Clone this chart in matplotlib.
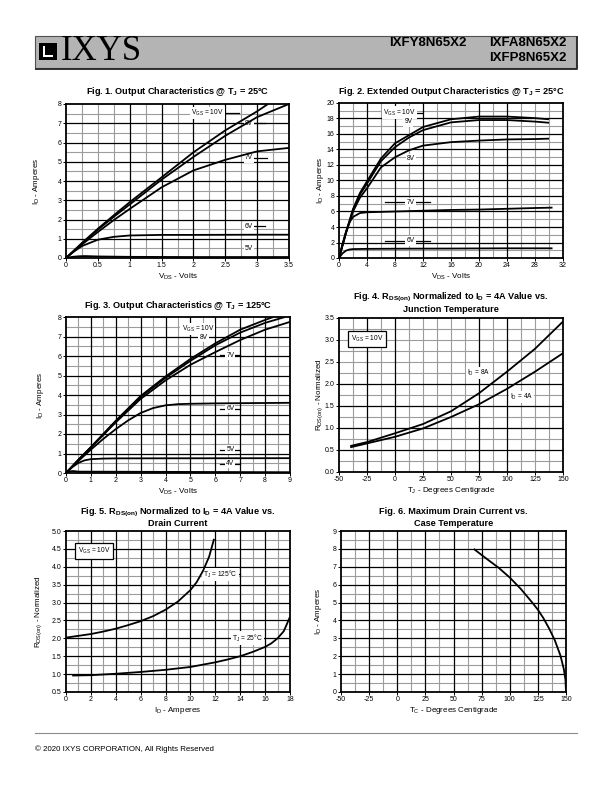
import numpy as np
import matplotlib
matplotlib.use("Agg")
import matplotlib.pyplot as plt
from matplotlib.patches import Rectangle

plt.rcParams['font.family'] = ['Liberation Sans', 'DejaVu Sans']
plt.rcParams['mathtext.default'] = 'regular'

# ---- data ----
# Fig 1: output characteristics @ 25C
f1_vds = [0, 0.25, 0.5, 0.75, 1.0, 1.5, 2.0, 2.5, 3.0, 3.5]
f1_vds_10 = [0, 0.25, 0.5, 0.75, 1.0, 1.5, 2.0, 2.5, 3.0, 3.17]
f1_id_10 = [0, 0.78, 1.52, 2.22, 2.9, 4.19, 5.49, 6.63, 7.62, 8.0]
f1_id_8 = [0, 0.75, 1.47, 2.14, 2.78, 4.07, 5.25, 6.35, 7.32, 8.0]
f1_id_7 = [0, 0.7, 1.35, 1.97, 2.55, 3.67, 4.55, 5.1, 5.54, 5.72]
f1_vds_6 = [0, 0.1, 0.25, 0.5, 0.75, 1.0, 1.5, 2.0, 3.0, 3.5]
f1_id_6 = [0, 0.28, 0.62, 0.95, 1.1, 1.17, 1.2, 1.2, 1.21, 1.21]
f1_vds_5 = [0, 0.1, 0.2, 0.3, 0.5, 1.0, 2.0, 3.5]
f1_id_5 = [0, 0.06, 0.09, 0.1, 0.08, 0.06, 0.05, 0.05]

# Fig 2: extended output characteristics @ 25C
f2_vds = [0, 1, 2, 3, 4, 6, 8, 10, 12, 16, 20, 24, 28, 30]
f2_id_10 = [0, 3.3, 6.3, 8.4, 9.9, 12.85, 14.8, 15.85, 16.9, 17.9, 18.25, 18.25, 18.05, 17.9]
f2_id_9 = [0, 3.3, 6.2, 8.2, 9.6, 12.5, 14.3, 15.55, 16.5, 17.5, 17.8, 17.8, 17.6, 17.45]
f2_id_8 = [0, 3.2, 6.0, 7.8, 9.0, 11.7, 13.0, 13.9, 14.5, 14.95, 15.15, 15.3, 15.35, 15.4]
f2_vds_7 = [0, 0.5, 1, 1.5, 2, 3, 4, 6, 8, 12, 16, 20, 24, 28, 30.5]
f2_id_7 = [0, 1.8, 3.4, 4.6, 5.3, 5.8, 5.9, 5.95, 6.0, 6.1, 6.2, 6.25, 6.35, 6.45, 6.5]
f2_vds_6 = [0, 0.5, 1, 1.5, 2, 4, 8, 16, 24, 30.5]
f2_id_6 = [0, 0.6, 0.95, 1.1, 1.15, 1.18, 1.2, 1.22, 1.25, 1.25]

# Fig 3: output characteristics @ 125C
f3_vds_10 = [0, 0.5, 1, 2, 3, 4, 5, 6, 7, 8, 8.33]
f3_id_10 = [0, 0.68, 1.33, 2.68, 3.95, 4.95, 5.85, 6.65, 7.35, 7.85, 8.0]
f3_vds_8 = [0, 0.5, 1, 2, 3, 4, 5, 6, 7, 8, 8.8]
f3_id_8 = [0, 0.68, 1.32, 2.65, 3.9, 4.88, 5.75, 6.55, 7.2, 7.7, 8.0]
f3_vds = [0, 0.5, 1, 2, 3, 4, 5, 6, 7, 8, 9]
f3_id_7 = [0, 0.66, 1.3, 2.6, 3.8, 4.75, 5.55, 6.2, 6.82, 7.35, 7.75]
f3_vds_6 = [0, 0.5, 1, 1.5, 2, 2.5, 3, 3.5, 4, 4.5, 5, 6, 9]
f3_id_6 = [0, 0.62, 1.2, 1.75, 2.25, 2.7, 3.08, 3.33, 3.47, 3.53, 3.55, 3.57, 3.6]
f3_vds_5 = [0, 0.25, 0.5, 0.75, 1, 1.5, 2, 9]
f3_id_5 = [0, 0.3, 0.52, 0.65, 0.71, 0.74, 0.75, 0.76]
f3_vds_4 = [0, 0.1, 0.2, 0.3, 0.5, 9]
f3_id_4 = [0, 0.06, 0.09, 0.1, 0.07, 0.04]

# Fig 4: RDS(on) normalized vs junction temperature
f4_tj = [-40, -25, 0, 25, 50, 75, 100, 125, 150]
f4_r_8a = [0.59, 0.68, 0.88, 1.09, 1.38, 1.79, 2.28, 2.8, 3.42]
f4_r_4a = [0.56, 0.65, 0.8, 0.99, 1.25, 1.54, 1.89, 2.28, 2.7]

# Fig 5: RDS(on) normalized vs drain current
f5_id_125 = [0, 1, 2, 3, 4, 5, 6, 7, 8, 9, 10, 10.5, 11, 11.5, 11.9]
f5_r_125 = [2.02, 2.07, 2.12, 2.19, 2.27, 2.37, 2.48, 2.62, 2.8, 3.03, 3.35, 3.57, 3.88, 4.28, 4.78]
f5_id_25 = [0.5, 2, 4, 6, 8, 10, 12, 13, 14, 15, 16, 16.5, 17, 17.5, 18]
f5_r_25 = [0.96, 0.97, 1.01, 1.06, 1.12, 1.2, 1.33, 1.41, 1.5, 1.62, 1.76, 1.86, 2.0, 2.2, 2.6]

# Fig 6: maximum drain current vs case temperature
f6_tc = [68, 75, 80, 90, 100, 110, 120, 125, 130, 135, 140, 145, 148, 149.5, 150]
f6_id = [8.0, 7.66, 7.42, 6.95, 6.4, 5.75, 5.0, 4.6, 4.12, 3.55, 2.9, 2.05, 1.3, 0.7, 0.0]

W, H = 612, 792
GRAY = '#9c9c9c'
fig = plt.figure(figsize=(W / 100, H / 100), dpi=100)

ov = fig.add_axes([0, 0, 1, 1])
ov.set_xlim(0, W)
ov.set_ylim(H, 0)
ov.axis('off')


def add_ax(l, t, r, b):
    return fig.add_axes([l / W, 1 - b / H, (r - l) / W, (b - t) / H])


def setup(ax, box, xlim, ylim, xticks, yticks, xlabels, ylabels, xb, xg, yb, yg):
    ax.set_xlim(*xlim)
    ax.set_ylim(*ylim)
    ax.set_xticks(xticks)
    ax.set_xticklabels(xlabels)
    ax.set_yticks(yticks)
    ax.set_yticklabels(ylabels)
    ax.tick_params(labelsize=5, length=2, width=0.7, pad=1.2)
    for s in ax.spines.values():
        s.set_linewidth(1.3)
        s.set_zorder(6)
    for v in xg:
        ax.axvline(v, color=GRAY, lw=0.8, zorder=1)
    for v in yg:
        ax.axhline(v, color=GRAY, lw=0.8, zorder=1)
    for v in xb:
        ax.axvline(v, color='black', lw=0.9, zorder=1.5)
    for v in yb:
        ax.axhline(v, color='black', lw=0.9, zorder=1.5)


def titles(box, lines, y0, step=12):
    cx = (box[0] + box[2]) / 2
    for i, s in enumerate(lines):
        ov.text(cx, y0 + i * step, s, ha='center', va='center', fontsize=6.6, fontweight='bold')


def labels(box, xl, yl, yx):
    cx = (box[0] + box[2]) / 2
    cy = (box[1] + box[3]) / 2
    ov.text(cx, box[3] + 19, xl, ha='center', va='center', fontsize=5.8)
    ov.text(yx, cy, yl, ha='center', va='center', fontsize=5.8, rotation=90)


def tag(ax, x, y, s, x0=None, x1=None, frame=False):
    if x0 is not None:
        ax.plot([x0, x1], [y, y], color='black', lw=0.9, zorder=2)
    ec = 'black' if frame else 'none'
    ax.text(x, y, s, fontsize=4.8, ha='center', va='center', zorder=3,
            bbox=dict(fc='white', ec=ec, lw=0.9, pad=2 if frame else 0.8))


def curve(ax, x, y):
    ax.plot(x, y, color='black', lw=1.3, zorder=4, solid_capstyle='butt')


ID_LABEL = 'I$_D$ - Amperes'
VDS_LABEL = 'V$_{DS}$ - Volts'
RDS_LABEL = 'R$_{DS(on)}$ - Normalized'

# ---- header ----
ov.add_patch(Rectangle((35, 36), 541, 32, fc='#b4b4b4', ec='#505050', lw=0.8, zorder=1))
ov.plot([36, 577, 577], [69, 69, 37], color='#303030', lw=1.4, zorder=2)
ov.add_patch(Rectangle((39, 43), 18, 17, fc='black', ec='none', zorder=3))
ov.add_patch(Rectangle((43, 46), 2, 11, fc='white', ec='none', zorder=4))
ov.add_patch(Rectangle((43, 55), 10, 2, fc='white', ec='none', zorder=4))
ov.text(61, 52, 'IXYS', family='Liberation Serif', fontsize=25, ha='left', va='center')
ov.text(466, 43, 'IXFY8N65X2', fontsize=9.5, fontweight='bold', ha='right', va='center')
ov.text(567, 43, 'IXFA8N65X2', fontsize=9.5, fontweight='bold', ha='right', va='center')
ov.text(567, 58, 'IXFP8N65X2', fontsize=9.5, fontweight='bold', ha='right', va='center')

# ---- footer ----
ov.plot([35, 577], [733, 733], color='#8a8a8a', lw=0.8)
ov.text(35, 749, '\u00a9 2020 IXYS CORPORATION, All Rights Reserved', fontsize=5.7, ha='left', va='center')

# ---- Fig 1 ----
b1 = (66, 104, 289, 258)
ax1 = add_ax(*b1)
setup(ax1, b1, (0, 3.5), (0, 8), np.arange(0, 3.51, 0.5), range(0, 9),
      ['0', '0.5', '1', '1.5', '2', '2.5', '3', '3.5'], [str(v) for v in range(9)],
      [1, 1.5, 2, 2.5, 3], [0.25, 0.5, 0.75, 1.25, 1.75, 2.25, 2.75, 3.25],
      range(1, 8), np.arange(0.5, 8, 1))
curve(ax1, f1_vds_10, f1_id_10)
curve(ax1, f1_vds, f1_id_8)
curve(ax1, f1_vds, f1_id_7)
curve(ax1, f1_vds_6, f1_id_6)
curve(ax1, f1_vds_5, f1_id_5)
tag(ax1, 2.22, 7.52, 'V$_{GS}$ = 10V', 2.4, 2.72)
tag(ax1, 2.87, 7.0, '8V', 2.9, 3.12)
tag(ax1, 2.87, 5.2, '7V', 2.9, 3.15)
tag(ax1, 2.87, 1.65, '6V', 2.9, 3.12)
tag(ax1, 2.87, 0.5, '5V')
titles(b1, ['Fig. 1. Output Characteristics @ T$_J$ = 25\u00b0C'], 92)
labels(b1, VDS_LABEL, ID_LABEL, 37)

# ---- Fig 2 ----
b2 = (339, 103, 563, 258)
ax2 = add_ax(*b2)
setup(ax2, b2, (0, 32), (0, 20), range(0, 33, 4), range(0, 21, 2),
      [str(v) for v in range(0, 33, 4)], [str(v) for v in range(0, 21, 2)],
      [4, 8, 12, 20, 24], [2, 6, 10, 14, 16, 18, 22, 26, 28, 30],
      range(2, 20, 2), range(1, 20, 2))
curve(ax2, f2_vds, f2_id_10)
curve(ax2, f2_vds, f2_id_9)
curve(ax2, f2_vds, f2_id_8)
curve(ax2, f2_vds_7, f2_id_7)
curve(ax2, f2_vds_6, f2_id_6)
tag(ax2, 8.6, 18.75, 'V$_{GS}$ = 10V', 10.5, 11.8)
tag(ax2, 9.9, 17.55, '9V')
tag(ax2, 10.3, 12.85, '8V')
tag(ax2, 10.2, 7.2, '7V', 6.5, 13.0)
tag(ax2, 10.2, 2.2, '6V', 6.5, 13.0)
titles(b2, ['Fig. 2. Extended Output Characteristics @ T$_J$ = 25\u00b0C'], 92)
labels(b2, VDS_LABEL, ID_LABEL, 320)

# ---- Fig 3 ----
b3 = (66, 317, 290, 473)
ax3 = add_ax(*b3)
setup(ax3, b3, (0, 9), (0, 8), range(0, 10), range(0, 9),
      [str(v) for v in range(10)], [str(v) for v in range(9)],
      range(1, 9), np.arange(0.5, 9, 1),
      range(1, 8), np.arange(0.5, 8, 1))
curve(ax3, f3_vds_10, f3_id_10)
curve(ax3, f3_vds_8, f3_id_8)
curve(ax3, f3_vds, f3_id_7)
curve(ax3, f3_vds_6, f3_id_6)
curve(ax3, f3_vds_5, f3_id_5)
curve(ax3, f3_vds_4, f3_id_4)
tag(ax3, 5.3, 7.38, 'V$_{GS}$ = 10V')
tag(ax3, 5.52, 6.94, '8V')
tag(ax3, 6.6, 6.03, '7V', 6.2, 7.0)
tag(ax3, 6.6, 3.3, '6V', 6.2, 7.0)
tag(ax3, 6.6, 1.2, '5V', 6.2, 7.0)
tag(ax3, 6.6, 0.48, '4V', 6.2, 7.0)
titles(b3, ['Fig. 3. Output Characteristics @ T$_J$ = 125\u00b0C'], 306)
labels(b3, VDS_LABEL, ID_LABEL, 40)

# ---- Fig 4 ----
b4 = (339, 318, 563, 472)
ax4 = add_ax(*b4)
setup(ax4, b4, (-50, 150), (0, 3.5), range(-50, 151, 25), np.arange(0, 3.51, 0.5),
      [str(v) for v in range(-50, 151, 25)], ['%.1f' % v for v in np.arange(0, 3.51, 0.5)],
      [-25, 0, 75, 100], [-37.5, -12.5, 12.5, 25, 37.5, 50, 62.5, 87.5, 112.5, 125, 137.5],
      [0.5, 1.0, 1.5, 2.0], [0.25, 0.75, 1.25, 1.75, 2.25, 2.5, 2.75, 3.0, 3.25])
curve(ax4, f4_tj, f4_r_8a)
curve(ax4, f4_tj, f4_r_4a)
tag(ax4, 75, 2.25, 'I$_D$ = 8A')
tag(ax4, 113, 1.7, 'I$_D$ = 4A')
tag(ax4, -25, 3.03, 'V$_{GS}$ = 10V', frame=True)
titles(b4, ['Fig. 4. R$_{DS(on)}$ Normalized to I$_D$ = 4A Value vs.', 'Junction Temperature'], 297, 13)
labels(b4, 'T$_J$ - Degrees Centigrade', RDS_LABEL, 320)

# ---- Fig 5 ----
b5 = (66, 531, 290, 692)
ax5 = add_ax(*b5)
setup(ax5, b5, (0, 18), (0.5, 5.0), range(0, 19, 2), np.arange(0.5, 5.01, 0.5),
      [str(v) for v in range(0, 19, 2)], ['%.1f' % v for v in np.arange(0.5, 5.01, 0.5)],
      range(2, 18, 2), range(1, 18, 2),
      np.arange(1.0, 4.6, 0.5), np.arange(0.75, 5.0, 0.5))
curve(ax5, f5_id_125, f5_r_125)
curve(ax5, f5_id_25, f5_r_25)
tag(ax5, 12.4, 3.79, 'T$_J$ = 125\u00b0C', 11.3, 14.0)
tag(ax5, 14.55, 2.01, 'T$_J$ = 25\u00b0C')
tag(ax5, 2.25, 4.43, 'V$_{GS}$ = 10V', frame=True)
titles(b5, ['Fig. 5. R$_{DS(on)}$ Normalized to I$_D$ = 4A Value vs.', 'Drain Current'], 512, 12)
labels(b5, ID_LABEL, RDS_LABEL, 39)

# ---- Fig 6 ----
b6 = (341, 531, 566, 692)
ax6 = add_ax(*b6)
setup(ax6, b6, (-50, 150), (0, 9), range(-50, 151, 25), range(0, 10),
      [str(v) for v in range(-50, 151, 25)], [str(v) for v in range(10)],
      range(-25, 150, 25), np.arange(-37.5, 150, 25),
      range(1, 9), np.arange(0.5, 9, 1))
curve(ax6, f6_tc, f6_id)
titles(b6, ['Fig. 6. Maximum Drain Current vs.', 'Case Temperature'], 512, 12)
labels(b6, 'T$_C$ - Degrees Centigrade', ID_LABEL, 319)

fig.savefig('out.png', dpi=100)
